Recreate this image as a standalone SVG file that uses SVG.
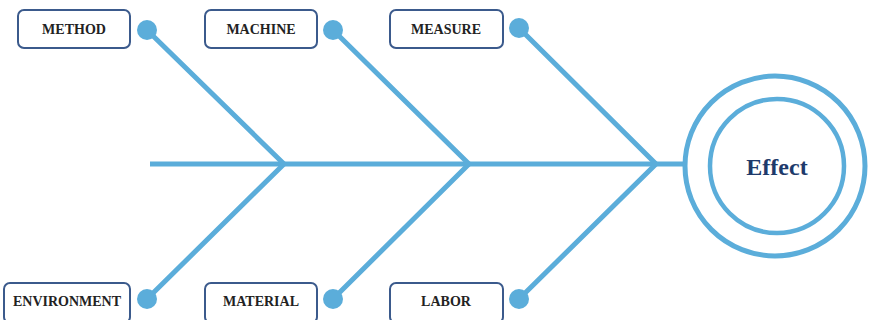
<svg xmlns="http://www.w3.org/2000/svg" width="869" height="320" viewBox="0 0 869 320">
  <style>
    .bone { stroke: #5badda; stroke-width: 5; fill: none; stroke-linecap: butt; }
    .dot { fill: #5badda; }
    .box { fill: #ffffff; stroke: #3b5a8c; stroke-width: 2; }
    .lbl { font-family: "Liberation Serif", "DejaVu Serif", serif; font-weight: bold; font-size: 14px; fill: #222222; text-anchor: middle; dominant-baseline: central; }
    .ring { fill: none; stroke: #5badda; }
    .eff { font-family: "Liberation Serif", "DejaVu Serif", serif; font-weight: bold; font-size: 24px; fill: #1e3a6b; text-anchor: middle; dominant-baseline: central; }
  </style>
  <rect width="869" height="320" fill="#ffffff"/>

  <!-- spine and ribs -->
  <g id="connectors">
    <line class="bone" x1="150" y1="164" x2="686" y2="164"/>
    <polyline class="bone" points="147,30 284,164 147,299"/>
    <polyline class="bone" points="333,30 469,164 333,299"/>
    <polyline class="bone" points="519,28 656,164 519,299"/>
    <circle class="dot" cx="147" cy="30" r="10"/>
    <circle class="dot" cx="333" cy="30" r="10"/>
    <circle class="dot" cx="519" cy="28" r="10"/>
    <circle class="dot" cx="147" cy="299" r="10"/>
    <circle class="dot" cx="333" cy="299" r="10"/>
    <circle class="dot" cx="519" cy="299" r="10"/>
  </g>

  <g id="method">
    <rect class="box" x="18" y="10" width="112" height="38" rx="6"/>
    <text class="lbl" x="74" y="29">METHOD</text>
  </g>
  <g id="machine">
    <rect class="box" x="205" y="10" width="112" height="38" rx="6"/>
    <text class="lbl" x="261" y="29">MACHINE</text>
  </g>
  <g id="measure">
    <rect class="box" x="390" y="10" width="113" height="38" rx="6"/>
    <text class="lbl" x="446" y="29">MEASURE</text>
  </g>
  <g id="environment">
    <rect class="box" x="4" y="283" width="126" height="40" rx="6"/>
    <text class="lbl" x="67" y="301">ENVIRONMENT</text>
  </g>
  <g id="material">
    <rect class="box" x="205" y="283" width="112" height="40" rx="6"/>
    <text class="lbl" x="261" y="301">MATERIAL</text>
  </g>
  <g id="labor">
    <rect class="box" x="390" y="283" width="113" height="40" rx="6"/>
    <text class="lbl" x="446" y="301">LABOR</text>
  </g>

  <g id="effect">
    <circle class="ring" cx="775" cy="166" r="90" stroke-width="5"/>
    <circle class="ring" cx="777" cy="166" r="67" stroke-width="4.5"/>
    <text class="eff" x="777" y="167">Effect</text>
  </g>
</svg>
